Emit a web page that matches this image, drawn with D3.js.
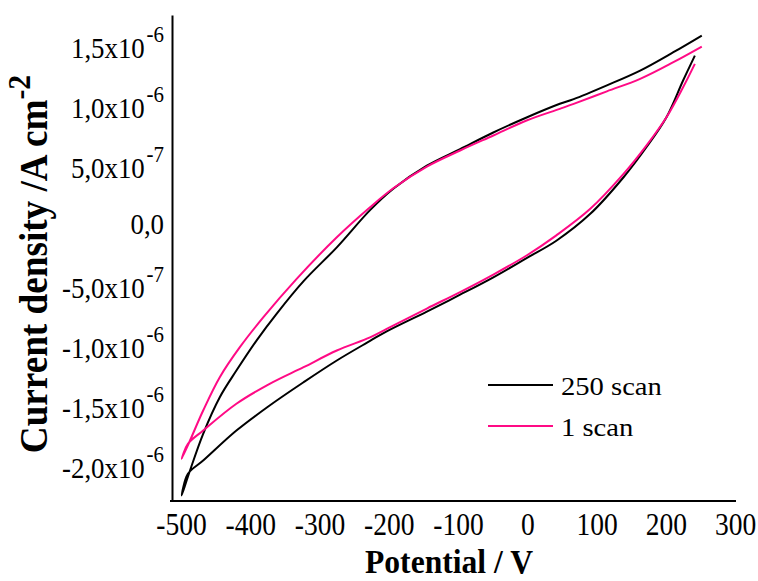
<!DOCTYPE html>
<html><head><meta charset="utf-8">
<script src="https://cdn.jsdelivr.net/npm/d3@7"></script>
<style>
body{margin:0;background:#fff}
svg{display:block}
text{font-family:"Liberation Serif","Times New Roman",serif;fill:#000}
</style>
</head><body>
<svg id="chart" width="758" height="581"></svg>
<script>
// Potential (V) and current density (x1e-6 A cm^-2), 250th scan
const potential250 = [242,225,201,172,139,91,42,-1,-49,-97,-145,-203,-227,-275,-323,-372,-420,-468,-490,-499,
  -487,-468,-444,-420,-391,-362,-323,-275,-227,-193,-145,-97,-49,-1,47,67,115,163,211,252];
const current250 = [1.408,1.200,0.894,0.644,0.394,0.089,-0.135,-0.280,-0.440,-0.585,-0.725,-0.890,-0.970,-1.133,-1.314,-1.508,-1.717,-1.967,-2.078,-2.258,
  -2.05,-1.744,-1.439,-1.217,-0.967,-0.744,-0.472,-0.190,0.120,0.300,0.490,0.628,0.767,0.892,1.006,1.045,1.160,1.283,1.436,1.575];
// 1st scan
const potential1 = [242,225,201,172,139,91,42,-1,-49,-97,-145,-203,-227,-275,-323,-372,-420,-468,-490,-499,
  -487,-468,-444,-415,-381,-333,-275,-227,-193,-145,-97,-49,-1,47,67,115,163,211,252];
const current1 = [1.339,1.144,0.894,0.658,0.422,0.131,-0.090,-0.258,-0.417,-0.563,-0.700,-0.870,-0.940,-1.050,-1.189,-1.328,-1.494,-1.717,-1.828,-1.953,
  -1.80,-1.55,-1.272,-1.022,-0.772,-0.453,-0.106,0.144,0.304,0.483,0.617,0.742,0.867,0.964,1.005,1.110,1.214,1.353,1.483];

const xTicks = [-500,-400,-300,-200,-100,0,100,200,300];
const yTicks = [1.5,1.0,0.5,0,-0.5,-1.0,-1.5,-2.0];
const yTickMantissa = ["1,5","1,0","5,0","0,0","-5,0","-1,0","-1,5","-2,0"];
const yTickExponent = ["-6","-6","-7","","-7","-6","-6","-6"];
const seriesNames = ["250 scan","1 scan"];
const seriesColors = ["#000000","#ff0a85"];
const xTitle = "Potential / V";
const yTitle = "Current density /A cm";
const yTitleExp = "-2";

const svg = d3.select("#chart");
const x = d3.scaleLinear().domain([-513, 301.4]).range([172, 736]);
const y = d3.scaleLinear().domain([-2.304, 1.746]).range([501, 15]);

// X axis
const gx = svg.append("g").attr("transform","translate(0,501)")
  .call(d3.axisBottom(x).tickValues(xTicks).tickSize(0).tickSizeOuter(0).tickFormat(d=>String(d)));
gx.attr("font-family",null).attr("font-size",null);
gx.select(".domain").attr("stroke","#000").attr("stroke-width",2).attr("d","M170,0H736");
gx.selectAll(".tick text").attr("y",null).attr("dy",null).attr("fill","#000")
  .attr("font-size",32).attr("text-anchor","middle")
  .attr("transform","translate(0,34) scale(0.86,1)");

// Y axis
const gy = svg.append("g").attr("transform","translate(172,0)")
  .call(d3.axisLeft(y).tickValues(yTicks).tickSize(0).tickSizeOuter(0).tickFormat(""));
gy.attr("font-family",null).attr("font-size",null);
gy.select(".domain").attr("stroke","#000").attr("stroke-width",2);
gy.selectAll(".tick text").each(function(d,i){
  const t = d3.select(this);
  const exp = yTickExponent[i];
  t.text(null).attr("x",null).attr("dy",null).attr("fill","#000")
   .attr("font-size",29.5).attr("text-anchor","end")
   .attr("transform",`translate(-8,${exp ? 13 : 9.3}) scale(0.91,1)`);
  t.append("tspan").text(yTickMantissa[i] + (exp ? "x10" : ""));
  if (exp) t.append("tspan").attr("font-size",23).attr("dx",2).attr("dy",-16).text(exp);
});

// Titles
const yt = svg.append("text").attr("transform","translate(47,264) rotate(-90) scale(0.93,1)")
  .attr("text-anchor","middle").attr("font-weight","bold").attr("font-size",40);
yt.append("tspan").text(yTitle);
yt.append("tspan").attr("font-size",32).attr("dy",-17).text(yTitleExp);

svg.append("text").attr("transform","translate(449,573) scale(0.93,1)")
  .attr("text-anchor","middle").attr("font-weight","bold").attr("font-size",34).text(xTitle);

// Curves
const line = d3.line().x(d=>x(d[0])).y(d=>y(d[1])).curve(d3.curveCatmullRom.alpha(0.5));
const series = [
  potential250.map((p,i)=>[p,current250[i]]),
  potential1.map((p,i)=>[p,current1[i]])
];
series.forEach((s,k)=>{
  svg.append("path").datum(s).attr("d",line).attr("fill","none")
    .attr("stroke",seriesColors[k]).attr("stroke-width",2).attr("stroke-linejoin","round");
});

// Legend
const legendY = [385, 426];
seriesNames.forEach((n,k)=>{
  svg.append("line").attr("x1",488).attr("x2",553).attr("y1",legendY[k]).attr("y2",legendY[k])
    .attr("stroke",seriesColors[k]).attr("stroke-width",2);
  svg.append("text").attr("transform",`translate(561,${legendY[k]+10}) scale(1.1,1)`)
    .attr("font-size",26).text(n);
});
</script>
</body></html>
